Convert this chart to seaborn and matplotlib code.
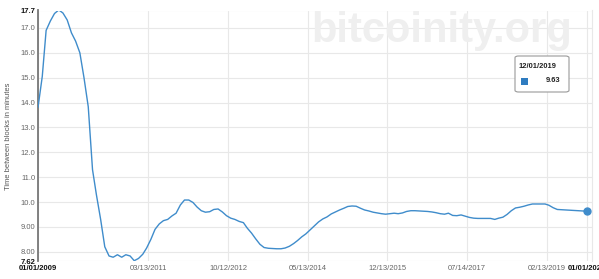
import matplotlib
matplotlib.use("Agg")
import matplotlib.pyplot as plt
from matplotlib.patches import FancyBboxPatch, Rectangle
import seaborn as sns
import pandas as pd

# Monthly average time between blocks (minutes), Jan 2009 .. Dec 2019
start_month = "2009-01-01"
minutes = [
    13.8, 15.05, 16.9, 17.28, 17.58, 17.72, 17.6, 17.32, 16.8, 16.47, 16.0, 15.0,
    13.83, 11.3, 10.3, 9.3, 8.2, 7.83, 7.78, 7.88, 7.78, 7.88, 7.83, 7.64,
    7.73, 7.9, 8.15, 8.5, 8.9, 9.12, 9.25, 9.3, 9.44, 9.55, 9.88, 10.08,
    10.08, 9.98, 9.8, 9.65, 9.59, 9.61, 9.7, 9.72, 9.6, 9.45, 9.35, 9.3,
    9.22, 9.17, 8.95, 8.75, 8.52, 8.3, 8.17, 8.14, 8.13, 8.12, 8.12, 8.15,
    8.22, 8.33, 8.45, 8.6, 8.72, 8.88, 9.03, 9.2, 9.32, 9.4, 9.52, 9.6,
    9.68, 9.75, 9.82, 9.84, 9.83, 9.75, 9.68, 9.64, 9.59, 9.56, 9.53, 9.51,
    9.53, 9.55, 9.53, 9.56, 9.62, 9.65, 9.65, 9.64, 9.63, 9.62, 9.6, 9.57,
    9.53, 9.51, 9.55, 9.46, 9.45, 9.48, 9.43, 9.38, 9.35, 9.34, 9.34, 9.34,
    9.34, 9.3, 9.35, 9.39, 9.5, 9.65, 9.76, 9.79, 9.83, 9.88, 9.92, 9.92,
    9.92, 9.92, 9.87, 9.77, 9.7, 9.69, 9.68, 9.67, 9.66, 9.65, 9.64, 9.63,
]
tick_dates = ["2009-01-01", "2011-03-13", "2012-10-12", "2014-05-13",
              "2015-12-13", "2017-07-14", "2019-02-13", "2019-12-01"]
tick_labels = ["01/01/2009", "03/13/2011", "10/12/2012", "05/13/2014",
               "12/13/2015", "07/14/2017", "02/13/2019", "01/01/2020"]
y_ticks = [7.62, 8.0, 9.0, 10.0, 11.0, 12.0, 13.0, 14.0, 15.0, 16.0, 17.0, 17.7]
y_labels = ["7.62", "8.00", "9.00", "10.0", "11.0", "12.0", "13.0", "14.0",
            "15.0", "16.0", "17.0", "17.7"]
tooltip_date = "12/01/2019"
tooltip_value = "9.63"

dates = pd.date_range(start_month, periods=len(minutes), freq="MS")
df = pd.DataFrame({"date": dates, "minutes": minutes})

sns.set_theme(style="white")
plt.rcParams["font.family"] = ["Liberation Sans", "DejaVu Sans"]

W, H = 599, 279
fig = plt.figure(figsize=(W / 100, H / 100), dpi=100)
ax = fig.add_axes([38 / W, 1 - 261.2 / H, (592 - 38) / W, (261.2 - 10.5) / H])

line_color = "#3f8ccb"

# watermark
fig.text(442 / W, 1 - 31 / H, "bitcoinity.org", fontsize=30, fontweight="bold",
         color="#efefef", ha="center", va="center", zorder=0)
ax.set_facecolor("none")

sns.lineplot(data=df, x="date", y="minutes", ax=ax, color=line_color,
             linewidth=1.0, zorder=3)
ax.plot([df["date"].iloc[-1]], [df["minutes"].iloc[-1]], "o", color=line_color,
        markersize=5, zorder=4, clip_on=False)

ax.set_xlim(pd.Timestamp("2009-01-01"), pd.Timestamp("2020-01-08"))
ax.set_ylim(7.62, 17.7)

ax.set_xticks(pd.to_datetime(tick_dates))
ax.set_xticklabels(tick_labels)
ax.set_yticks(y_ticks)
ax.set_yticklabels(y_labels)

ax.tick_params(axis="both", length=0, labelsize=5.5, colors="#666666")
ax.tick_params(axis="x", pad=3)
ax.tick_params(axis="y", pad=2)
for lbls in (ax.get_xticklabels(), ax.get_yticklabels()):
    for t in (lbls[0], lbls[-1]):
        t.set_fontweight("bold")
        t.set_color("#111111")

ax.grid(True, color="#e8e8e8", linewidth=0.8)
ax.set_axisbelow(True)
ax.set_xlabel("")
ax.set_ylabel("Time between blocks in minutes", fontsize=5.4, color="#555555",
              labelpad=6)

for s in ["top", "bottom"]:
    ax.spines[s].set_visible(False)
ax.spines["right"].set_color("#e8e8e8")
ax.spines["right"].set_linewidth(0.8)
ax.spines["left"].set_color("#777777")
ax.spines["left"].set_linewidth(1.3)

# tooltip box
box = FancyBboxPatch((515 / W, 1 - 92 / H), 54 / W, 36 / H,
                     boxstyle="round,pad=0,rounding_size=0.006",
                     transform=fig.transFigure, facecolor="white",
                     edgecolor="#999999", linewidth=0.8, zorder=5)
fig.patches.append(box)
fig.text(519 / W, 1 - 66 / H, tooltip_date, fontsize=5.4, fontweight="bold",
         color="#222222", ha="left", va="center", zorder=6)
fig.patches.append(Rectangle((521 / W, 1 - 85 / H), 7 / W, 7 / H,
                             transform=fig.transFigure, facecolor="#2f7cc0",
                             edgecolor="none", zorder=6))
fig.text(560 / W, 1 - 81 / H, tooltip_value, fontsize=5.4, fontweight="bold",
         color="#222222", ha="right", va="center", zorder=6)

fig.savefig("out.png", dpi=100, facecolor="white")
